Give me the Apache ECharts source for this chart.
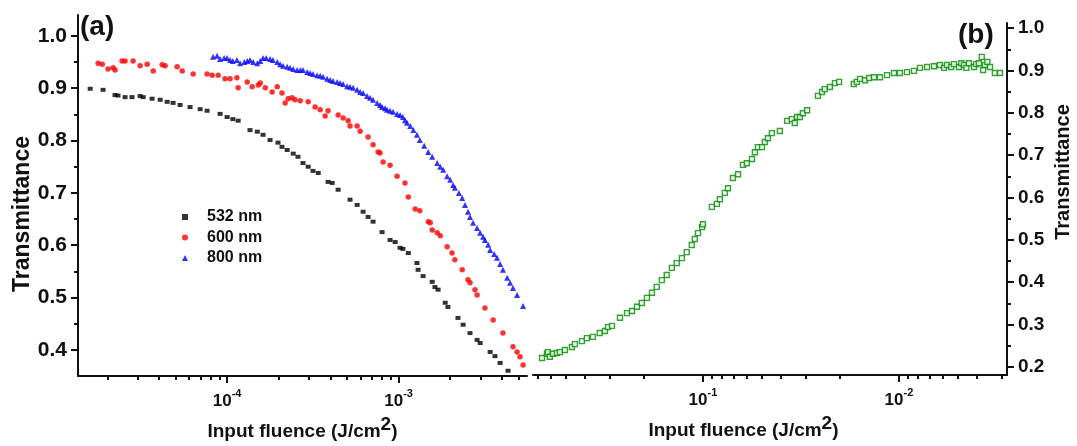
<!DOCTYPE html>
<html>
<head>
<meta charset="utf-8">
<script src="https://cdn.jsdelivr.net/npm/echarts@6/dist/echarts.min.js"></script>
<style>
  html, body { margin: 0; padding: 0; background: #fff; }
  #chart { width: 1077px; height: 446px; }
</style>
</head>
<body>
<div id="chart"></div>
<script>
// (a) transmittance vs input fluence at three wavelengths
const fluence532 = [1.59e-5,1.89e-5,2.22e-5,2.31e-5,2.54e-5,2.79e-5,3.11e-5,3.24e-5,3.65e-5,4.07e-5,4.47e-5,4.84e-5,5.32e-5,6.08e-5,6.96e-5,7.64e-5,9.10e-5,1.00e-4,1.08e-4,1.16e-4,1.36e-4,1.50e-4,1.62e-4,1.78e-4,1.98e-4,2.09e-4,2.24e-4,2.43e-4,2.59e-4,2.77e-4,2.97e-4,3.17e-4,3.40e-4,3.88e-4,4.10e-4,4.44e-4,5.21e-4,5.73e-4,6.21e-4,6.64e-4,7.10e-4,8.01e-4,8.92e-4,9.55e-4,1.02e-3,1.06e-3,1.14e-3,1.28e-3,1.30e-3,1.39e-3,1.57e-3,1.63e-3,1.70e-3,1.87e-3,1.94e-3,2.22e-3,2.38e-3,2.61e-3,2.87e-3,2.99e-3,3.42e-3,3.65e-3,3.91e-3,4.35e-3];
const trans532 = [0.899,0.897,0.887,0.886,0.883,0.883,0.885,0.883,0.880,0.878,0.874,0.872,0.868,0.864,0.860,0.857,0.851,0.845,0.841,0.838,0.820,0.817,0.811,0.801,0.796,0.788,0.782,0.775,0.769,0.757,0.750,0.742,0.738,0.721,0.719,0.706,0.687,0.677,0.664,0.654,0.645,0.625,0.610,0.606,0.595,0.593,0.585,0.566,0.553,0.541,0.530,0.520,0.515,0.490,0.482,0.461,0.448,0.432,0.419,0.413,0.396,0.388,0.375,0.360];

const fluence600 = [1.77e-5,1.87e-5,2.02e-5,2.16e-5,2.22e-5,2.44e-5,2.54e-5,2.83e-5,3.11e-5,3.42e-5,3.71e-5,4.18e-5,4.35e-5,5.11e-5,5.47e-5,6.34e-5,7.64e-5,8.18e-5,8.87e-5,9.73e-5,1.04e-4,1.14e-4,1.16e-4,1.31e-4,1.40e-4,1.52e-4,1.56e-4,1.67e-4,1.83e-4,1.96e-4,2.09e-4,2.18e-4,2.27e-4,2.39e-4,2.49e-4,2.67e-4,2.97e-4,3.26e-4,3.49e-4,3.73e-4,3.88e-4,4.44e-4,4.75e-4,5.08e-4,5.21e-4,5.73e-4,5.97e-4,6.64e-4,7.10e-4,7.59e-4,7.80e-4,8.12e-4,8.92e-4,9.80e-4,1.09e-3,1.14e-3,1.25e-3,1.33e-3,1.49e-3,1.53e-3,1.57e-3,1.68e-3,1.75e-3,1.92e-3,2.05e-3,2.13e-3,2.35e-3,2.54e-3,2.61e-3,2.79e-3,2.87e-3,3.19e-3,3.56e-3,4.06e-3,4.65e-3,4.91e-3,5.11e-3,5.32e-3];
const trans600 = [0.948,0.946,0.937,0.939,0.935,0.952,0.952,0.952,0.943,0.946,0.933,0.945,0.943,0.941,0.933,0.927,0.927,0.925,0.925,0.918,0.918,0.920,0.901,0.912,0.903,0.906,0.910,0.901,0.893,0.903,0.891,0.872,0.880,0.882,0.878,0.876,0.874,0.864,0.859,0.847,0.857,0.849,0.843,0.838,0.828,0.828,0.818,0.807,0.792,0.778,0.776,0.759,0.753,0.732,0.719,0.692,0.669,0.666,0.645,0.643,0.629,0.624,0.618,0.597,0.585,0.572,0.553,0.534,0.528,0.515,0.505,0.480,0.457,0.432,0.406,0.396,0.387,0.371];

const fluence800 = [8.28e-5,8.74e-5,9.10e-5,9.61e-5,1.00e-4,1.04e-4,1.08e-4,1.14e-4,1.19e-4,1.26e-4,1.31e-4,1.36e-4,1.42e-4,1.50e-4,1.56e-4,1.62e-4,1.69e-4,1.78e-4,1.85e-4,1.96e-4,2.04e-4,2.12e-4,2.24e-4,2.33e-4,2.43e-4,2.56e-4,2.67e-4,2.77e-4,2.93e-4,3.05e-4,3.17e-4,3.35e-4,3.49e-4,3.63e-4,3.83e-4,3.99e-4,4.15e-4,4.38e-4,4.56e-4,4.75e-4,5.01e-4,5.21e-4,5.43e-4,5.73e-4,5.97e-4,6.21e-4,6.55e-4,6.82e-4,7.10e-4,7.50e-4,7.80e-4,8.01e-4,8.34e-4,8.57e-4,8.92e-4,9.29e-4,9.80e-4,1.02e-3,1.06e-3,1.09e-3,1.12e-3,1.17e-3,1.22e-3,1.28e-3,1.33e-3,1.41e-3,1.49e-3,1.57e-3,1.68e-3,1.75e-3,1.82e-3,1.92e-3,2.00e-3,2.08e-3,2.13e-3,2.25e-3,2.35e-3,2.44e-3,2.54e-3,2.61e-3,2.72e-3,2.87e-3,2.99e-3,3.11e-3,3.19e-3,3.33e-3,3.42e-3,3.61e-3,3.75e-3,3.91e-3,4.06e-3,4.30e-3,4.47e-3,4.65e-3,4.91e-3,5.32e-3];
const trans800 = [0.960,0.962,0.956,0.958,0.958,0.954,0.952,0.954,0.948,0.950,0.952,0.954,0.950,0.948,0.952,0.958,0.958,0.956,0.954,0.950,0.946,0.943,0.941,0.939,0.937,0.935,0.935,0.935,0.931,0.929,0.927,0.925,0.924,0.922,0.918,0.916,0.914,0.912,0.910,0.908,0.904,0.903,0.901,0.897,0.893,0.891,0.885,0.882,0.878,0.872,0.868,0.864,0.862,0.859,0.857,0.855,0.851,0.849,0.845,0.839,0.834,0.828,0.820,0.811,0.801,0.790,0.778,0.769,0.757,0.750,0.744,0.732,0.725,0.715,0.710,0.700,0.690,0.677,0.664,0.654,0.643,0.633,0.624,0.616,0.610,0.601,0.591,0.583,0.576,0.564,0.553,0.538,0.528,0.518,0.505,0.484];

// (b) transmittance vs input fluence, fluence axis runs high to low
const fluenceB = [0.662,0.625,0.618,0.604,0.582,0.556,0.537,0.506,0.466,0.450,0.414,0.391,0.364,0.336,0.316,0.305,0.291,0.265,0.244,0.230,0.217,0.205,0.193,0.182,0.172,0.162,0.153,0.144,0.136,0.128,0.121,0.114,0.110,0.106,0.101,0.100,0.0900,0.0849,0.0819,0.0773,0.0745,0.0703,0.0662,0.0625,0.0597,0.0562,0.0543,0.0524,0.0500,0.0483,0.0466,0.0445,0.0405,0.0372,0.0352,0.0340,0.0331,0.0320,0.0309,0.0294,0.0259,0.0247,0.0239,0.0225,0.0212,0.0202,0.0170,0.0164,0.0158,0.0149,0.0142,0.0134,0.0125,0.0115,0.0106,0.00989,0.00910,0.00838,0.00781,0.00719,0.00662,0.00618,0.00588,0.00569,0.00541,0.00524,0.00494,0.00481,0.00466,0.00453,0.00440,0.00414,0.00404,0.00391,0.00378,0.00372,0.00364,0.00354,0.00343,0.00324,0.00305];
const transB = [0.221,0.231,0.235,0.224,0.231,0.233,0.235,0.240,0.247,0.254,0.261,0.268,0.271,0.280,0.285,0.294,0.297,0.316,0.327,0.332,0.342,0.351,0.363,0.375,0.389,0.405,0.417,0.434,0.445,0.457,0.471,0.488,0.502,0.516,0.530,0.537,0.578,0.585,0.596,0.611,0.622,0.646,0.655,0.677,0.681,0.691,0.707,0.719,0.719,0.731,0.740,0.752,0.757,0.781,0.785,0.776,0.790,0.790,0.799,0.806,0.840,0.849,0.856,0.861,0.870,0.873,0.868,0.873,0.880,0.877,0.882,0.884,0.884,0.889,0.894,0.894,0.896,0.899,0.906,0.908,0.910,0.913,0.906,0.913,0.908,0.915,0.908,0.917,0.913,0.906,0.917,0.908,0.915,0.917,0.932,0.901,0.913,0.920,0.908,0.894,0.894];

// tick values
const yTicksA = [0.4, 0.5, 0.6, 0.7, 0.8, 0.9, 1.0];
const yMinorA = [0.45, 0.55, 0.65, 0.75, 0.85, 0.95];
const yTicksB = [0.2, 0.3, 0.4, 0.5, 0.6, 0.7, 0.8, 0.9, 1.0];
const yMinorB = [0.25, 0.35, 0.45, 0.55, 0.65, 0.75, 0.85, 0.95];
const xTicksA = [1e-4, 1e-3];
const xTicksB = [1e-2, 1e-1];
const mantissas = [2, 3, 4, 5, 6, 7, 8, 9];

function minorLogTicks(decades) {
  const out = [];
  decades.forEach(d => mantissas.forEach(m => out.push(+(m * d).toPrecision(3))));
  return out;
}
const xMinorA = minorLogTicks([1e-5, 1e-4, 1e-3]);
const xMinorB = minorLogTicks([1e-3, 1e-2, 1e-1]);

const FONT = '"Liberation Sans", Arial, sans-serif';
const INK = '#111';

function pairs(xs, ys) { return xs.map((x, i) => [x, ys[i]]); }

const powRich = {
  b: { fontSize: 17, fontWeight: 'bold', fontFamily: FONT, color: INK, lineHeight: 22, verticalAlign: 'bottom' },
  e: { fontSize: 11, fontWeight: 'bold', fontFamily: FONT, color: INK, lineHeight: 12, verticalAlign: 'top' }
};
function powLabel(v) {
  const e = Math.round(Math.log10(v));
  return '{b|10}{e|' + e + '}';
}
const xNameRich = {
  m: { fontSize: 19, fontWeight: 'bold', fontFamily: FONT, color: INK, lineHeight: 26, verticalAlign: 'bottom' },
  s: { fontSize: 19, fontWeight: 'bold', fontFamily: FONT, color: INK, lineHeight: 19, verticalAlign: 'top' }
};
const xName = '{m|Input fluence (J/cm}{s|2}{m|)}';

const axisLine = { show: true, lineStyle: { color: INK, width: 2 } };

function majorX(grid, min, max, ticks, inverse, namePad) {
  return {
    type: 'log', gridIndex: grid, position: 'bottom', min: min, max: max, inverse: inverse,
    axisLine: axisLine,
    axisTick: { show: true, inside: false, length: 7, customValues: ticks, lineStyle: { color: INK, width: 2 } },
    axisLabel: { show: true, customValues: ticks, margin: 12, formatter: powLabel, rich: powRich },
    splitLine: { show: false }, minorTick: { show: false },
    name: xName, nameLocation: 'middle', nameGap: 39,
    nameTextStyle: { rich: xNameRich, padding: namePad }
  };
}
function minorX(grid, min, max, ticks, inverse) {
  return {
    type: 'log', gridIndex: grid, position: 'bottom', min: min, max: max, inverse: inverse,
    axisLine: { show: false },
    axisTick: { show: true, inside: false, length: 4, customValues: ticks, lineStyle: { color: INK, width: 2 } },
    axisLabel: { show: false }, splitLine: { show: false }
  };
}
function majorY(grid, pos, min, max, ticks, fontSize, nameSize, nameGap, namePad) {
  return {
    type: 'value', gridIndex: grid, position: pos, min: min, max: max,
    axisLine: axisLine,
    axisTick: { show: true, inside: false, length: 7, customValues: ticks, lineStyle: { color: INK, width: 2 } },
    axisLabel: { show: true, customValues: ticks, margin: 11, formatter: v => v.toFixed(1),
      fontSize: fontSize, fontWeight: 'bold', fontFamily: FONT, color: INK },
    splitLine: { show: false },
    name: 'Transmittance', nameLocation: 'middle', nameRotate: 90, nameGap: nameGap,
    nameTextStyle: { fontSize: nameSize, fontWeight: 'bold', fontFamily: FONT, color: INK, padding: namePad }
  };
}
function minorY(grid, pos, min, max, ticks) {
  return {
    type: 'value', gridIndex: grid, position: pos, min: min, max: max,
    axisLine: { show: false },
    axisTick: { show: true, inside: false, length: 4, customValues: ticks, lineStyle: { color: INK, width: 2 } },
    axisLabel: { show: false }, splitLine: { show: false }
  };
}

const option = {
  animation: false,
  backgroundColor: '#fff',
  grid: [
    { left: 78, top: 15, width: 449, height: 361 },
    { left: 533, top: 23, width: 474, height: 352 }
  ],
  xAxis: [
    majorX(0, 1.35e-5, 5.61e-3, xTicksA, false, [0, 0, 0, 0]),
    minorX(0, 1.35e-5, 5.61e-3, xMinorA, false),
    majorX(1, 0.00281, 0.736, xTicksB, true, [0, 53, 0, 0]),
    minorX(1, 0.00281, 0.736, xMinorB, true)
  ],
  yAxis: [
    majorY(0, 'left', 0.35, 1.04, yTicksA, 21, 23, 44, [0, 37, 0, 0]),
    minorY(0, 'left', 0.35, 1.04, yMinorA),
    majorY(1, 'right', 0.181, 1.012, yTicksB, 19, 20, 46, [0, 0, 0, 54]),
    minorY(1, 'right', 0.181, 1.012, yMinorB)
  ],
  legend: {
    data: ['532 nm', '600 nm', '800 nm'],
    orient: 'vertical', left: 177, top: 204,
    itemWidth: 6, itemHeight: 6, itemGap: 4.5,
    textStyle: { fontSize: 16, fontWeight: 'bold', fontFamily: FONT, color: INK, lineHeight: 16, padding: [0, 0, 0, 14] }
  },
  graphic: [
    { type: 'text', left: 80, top: 13, style: { text: '(a)', font: 'bold 28px ' + FONT, fill: INK } },
    { type: 'text', left: 958, top: 21, style: { text: '(b)', font: 'bold 28px ' + FONT, fill: INK } }
  ],
  series: [
    { name: '532 nm', type: 'scatter', xAxisIndex: 0, yAxisIndex: 0, symbol: 'rect', symbolSize: [5, 4],
      itemStyle: { color: '#000' }, data: pairs(fluence532, trans532) },
    { name: '600 nm', type: 'scatter', xAxisIndex: 0, yAxisIndex: 0, symbol: 'circle', symbolSize: 5.5,
      itemStyle: { color: '#ff0000' }, data: pairs(fluence600, trans600) },
    { name: '800 nm', type: 'scatter', xAxisIndex: 0, yAxisIndex: 0, symbol: 'triangle', symbolSize: 6,
      itemStyle: { color: '#0000ff' }, data: pairs(fluence800, trans800) },
    { name: 'b', type: 'scatter', xAxisIndex: 2, yAxisIndex: 2, symbol: 'rect', symbolSize: 5,
      itemStyle: { color: '#f4fbf4', borderColor: '#008c00', borderWidth: 1.4 }, data: pairs(fluenceB, transB) }
  ]
};

const chart = echarts.init(document.getElementById('chart'), null, { renderer: 'canvas' });
chart.setOption(option);
</script>
</body>
</html>
